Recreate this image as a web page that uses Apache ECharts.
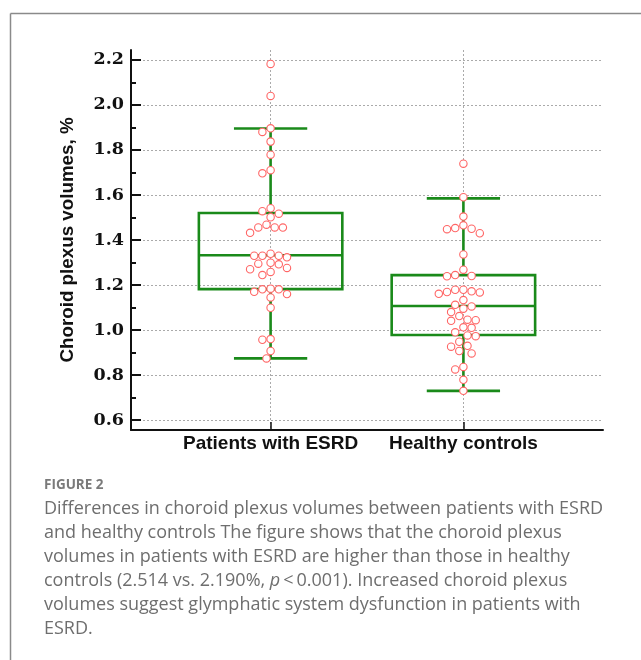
<!DOCTYPE html>
<html>
<head>
<meta charset="utf-8">
<script src="https://cdn.jsdelivr.net/npm/echarts@6/dist/echarts.min.js"></script>
<style>
html,body{margin:0;padding:0;background:#fff;}
#chart{width:641px;height:660px;}
</style>
</head>
<body>
<div id="chart"></div>
<script>
// ---- Data ----
const categories = ['Patients with ESRD', 'Healthy controls'];
// box statistics: [lower whisker, Q1, median, Q3, upper whisker]
const esrdBox = [0.874, 1.182, 1.332, 1.520, 1.895];
const healthyBox = [0.730, 0.978, 1.107, 1.244, 1.585];
const esrdValues = [
  2.182, 2.040, 1.896, 1.880, 1.837, 1.779, 1.710, 1.696, 1.541, 1.528,
  1.517, 1.501, 1.468, 1.456, 1.456, 1.455, 1.432, 1.339, 1.330, 1.330,
  1.330, 1.323, 1.299, 1.295, 1.292, 1.276, 1.270, 1.258, 1.244, 1.184,
  1.181, 1.181, 1.170, 1.160, 1.145, 1.099, 0.960, 0.957, 0.907, 0.874
];
const healthyValues = [
  1.739, 1.590, 1.504, 1.465, 1.453, 1.450, 1.448, 1.430, 1.336, 1.268,
  1.244, 1.240, 1.239, 1.179, 1.179, 1.172, 1.169, 1.167, 1.161, 1.133,
  1.112, 1.105, 1.095, 1.080, 1.062, 1.046, 1.044, 1.041, 1.012, 1.010,
  0.990, 0.976, 0.973, 0.948, 0.930, 0.926, 0.907, 0.896, 0.836, 0.825,
  0.779, 0.730
];
const yTickValues = [0.6, 0.8, 1.0, 1.2, 1.4, 1.6, 1.8, 2.0, 2.2];
const yMinorTickValues = [0.7, 0.9, 1.1, 1.3, 1.5, 1.7, 1.9, 2.1];
const yName = 'Choroid plexus volumes, %';
const captionTitle = 'FIGURE 2';
const captionLines = [
  'Differences in choroid plexus volumes between patients with ESRD',
  'and healthy controls The figure shows that the choroid plexus',
  'volumes in patients with ESRD are higher than those in healthy',
  'controls (2.514 vs. 2.190%, {i|p}\u2009<\u20090.001). Increased choroid plexus',
  'volumes suggest glymphatic system dysfunction in patients with',
  'ESRD.'
];

// ---- Styles ----
const GREEN = '#1a8a1a';
const RED = '#ff6666';
const GRID_COLOR = '#aaaaaa';
const BOX_HALF = 0.372;
const CAP_HALF = 0.19;
const DOT_R = 3.7;
const DOT_D = 8.2;
const CAPTION_FONT = 'Open Sans';
const CAPTION_SIZE = 18;

const groups = [esrdValues, healthyValues];
const boxData = [[1].concat(esrdBox), [2].concat(healthyBox)];
const pointData = [];
groups.forEach((vals, gi) => vals.forEach(v => pointData.push([gi + 1, v])));

// beeswarm offsets computed in pixel space
let swarmCache = null;
function computeSwarm(api) {
  const offsets = [];
  let idx = 0;
  groups.forEach((vals, gi) => {
    const items = vals.map((v, k) => ({ k: idx + k, py: api.coord([gi + 1, v])[1] }));
    items.sort((a, b) => a.py - b.py);
    const placed = [];
    const step = DOT_D / 2;
    items.forEach(it => {
      let off = 0;
      for (let n = 0; n < 40; n++) {
        const cand = n === 0 ? 0 : (n % 2 === 1 ? -Math.ceil(n / 2) : Math.ceil(n / 2)) * step;
        const ok = placed.every(p => {
          const dx = p.x - cand, dy = p.y - it.py;
          return dx * dx + dy * dy >= DOT_D * DOT_D * 0.98;
        });
        if (ok) { off = cand; break; }
      }
      placed.push({ x: off, y: it.py });
      offsets[it.k] = off;
    });
    idx += vals.length;
  });
  return offsets;
}

function renderBox(params, api) {
  const x = api.value(0);
  const mn = api.value(1), q1 = api.value(2), md = api.value(3), q3 = api.value(4), mx = api.value(5);
  const tl = api.coord([x - BOX_HALF, q3]);
  const br = api.coord([x + BOX_HALF, q1]);
  const mdL = api.coord([x - BOX_HALF, md]);
  const mdR = api.coord([x + BOX_HALF, md]);
  const top = api.coord([x, mx]);
  const bot = api.coord([x, mn]);
  const capTL = api.coord([x - CAP_HALF, mx]);
  const capTR = api.coord([x + CAP_HALF, mx]);
  const capBL = api.coord([x - CAP_HALF, mn]);
  const capBR = api.coord([x + CAP_HALF, mn]);
  const ls = { stroke: GREEN, lineWidth: 2.6, fill: null };
  return {
    type: 'group',
    children: [
      { type: 'line', shape: { x1: top[0], y1: top[1], x2: top[0], y2: tl[1] }, style: ls },
      { type: 'line', shape: { x1: bot[0], y1: br[1], x2: bot[0], y2: bot[1] }, style: ls },
      { type: 'line', shape: { x1: capTL[0], y1: capTL[1], x2: capTR[0], y2: capTR[1] }, style: ls },
      { type: 'line', shape: { x1: capBL[0], y1: capBL[1], x2: capBR[0], y2: capBR[1] }, style: ls },
      { type: 'rect', shape: { x: tl[0], y: tl[1], width: br[0] - tl[0], height: br[1] - tl[1] }, style: ls },
      { type: 'line', shape: { x1: mdL[0], y1: mdL[1], x2: mdR[0], y2: mdR[1] }, style: ls }
    ]
  };
}

function renderPoint(params, api) {
  if (params.dataIndexInside === 0 || !swarmCache) swarmCache = computeSwarm(api);
  const p = api.coord([api.value(0), api.value(1)]);
  const off = swarmCache[params.dataIndex] || 0;
  return {
    type: 'circle',
    shape: { cx: p[0] + off, cy: p[1], r: DOT_R },
    style: { fill: '#ffffff', stroke: RED, lineWidth: 1.1 }
  };
}

const gridLine = { show: true, lineStyle: { color: GRID_COLOR, type: [2, 2], width: 1 } };

const captionGraphics = [
  { type: 'line', shape: { x1: 10.5, y1: 13.5, x2: 641, y2: 13.5 }, style: { stroke: '#8a8a8a', lineWidth: 1.5 } },
  { type: 'line', shape: { x1: 10.5, y1: 13.5, x2: 10.5, y2: 660 }, style: { stroke: '#8a8a8a', lineWidth: 1.5 } },
  { type: 'text', x: 44, y: 485.5, style: { text: captionTitle, fill: '#7a7a7a', fontSize: 13.5, fontWeight: 'bold', fontFamily: CAPTION_FONT, verticalAlign: 'middle' } }
];
captionLines.forEach((line, i) => {
  captionGraphics.push({
    type: 'text', x: 44, y: 508.5 + i * 24.1,
    style: {
      text: line, fill: '#6e6e6e', fontSize: CAPTION_SIZE, fontFamily: CAPTION_FONT, verticalAlign: 'middle',
      rich: { i: { fontStyle: 'italic', fontSize: CAPTION_SIZE, fontFamily: CAPTION_FONT, fill: '#6e6e6e' } }
    }
  });
});

const chart = echarts.init(document.getElementById('chart'), null, { renderer: 'canvas' });
chart.setOption({
  animation: false,
  backgroundColor: '#ffffff',
  grid: { left: 131, right: 38, top: 50, bottom: 230 },
  xAxis: {
    type: 'value', min: 0.276, max: 2.724,
    axisLine: { show: true, onZero: false, lineStyle: { color: '#111', width: 2 } },
    axisTick: { show: true, inside: true, length: 8, customValues: [1, 2], lineStyle: { color: '#111', width: 1.5 } },
    axisLabel: {
      customValues: [1, 2], margin: 4,
      formatter: v => categories[Math.round(v) - 1] || '',
      color: '#111', fontSize: 19, fontWeight: 'bold', fontFamily: 'Liberation Sans'
    },
    splitLine: gridLine
  },
  yAxis: [
    {
      type: 'value', min: 0.556, max: 2.244,
      name: yName, nameLocation: 'middle', nameRotate: 90, nameGap: 54,
      nameTextStyle: { color: '#111', fontSize: 18.8, fontWeight: 'bold', fontFamily: 'Liberation Sans' },
      axisLine: { show: true, onZero: false, lineStyle: { color: '#111', width: 2 } },
      axisTick: { show: true, inside: true, length: 10, customValues: yTickValues, lineStyle: { color: '#111', width: 2 } },
      axisLabel: {
        customValues: yTickValues, margin: 7,
        formatter: v => v.toFixed(1),
        color: '#111', fontSize: 17.5, fontWeight: 'bold', fontFamily: 'DejaVu Serif'
      },
      splitLine: gridLine
    },
    {
      type: 'value', min: 0.556, max: 2.244, position: 'left', offset: 0,
      axisLine: { show: false },
      axisTick: { show: true, inside: true, length: 5, customValues: yMinorTickValues, lineStyle: { color: '#111', width: 2 } },
      axisLabel: { show: false },
      splitLine: { show: false }
    }
  ],
  graphic: captionGraphics,
  series: [
    {
      type: 'custom', name: 'box', renderItem: renderBox, data: boxData, z: 3,
      encode: { x: 0, y: [1, 2, 3, 4, 5] }, clip: false
    },
    {
      type: 'custom', name: 'points', renderItem: renderPoint, data: pointData, z: 5,
      encode: { x: 0, y: 1 }, clip: false
    }
  ]
});
</script>
</body>
</html>
